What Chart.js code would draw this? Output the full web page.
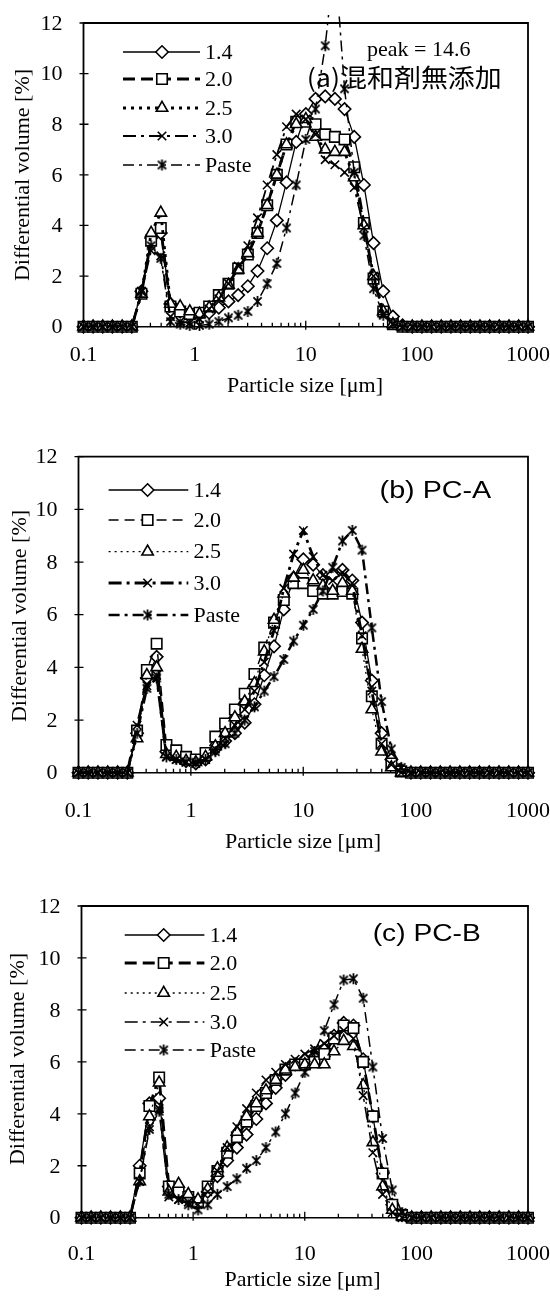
<!DOCTYPE html>
<html>
<head>
<meta charset="utf-8">
<title>Particle size distribution</title>
<script src="https://cdn.jsdelivr.net/npm/chart.js@4.4.1/dist/chart.umd.min.js"></script>
<style>
    html, body { margin: 0; padding: 0; background: #fff; }
    body { position: relative; width: 550px; height: 1298px; overflow: hidden; }
    canvas { position: absolute; left: 0; }
</style>
</head>
<body>
<canvas id="chartA" width="550" height="430" style="top:0px"></canvas>
<canvas id="chartB" width="550" height="450" style="top:420px"></canvas>
<canvas id="chartC" width="550" height="448" style="top:850px"></canvas>
<script>
// Instrument size channels [um], shared by every curve
const SIZES = [0.100, 0.122, 0.149, 0.182, 0.223, 0.272, 0.332, 0.406, 0.496, 0.606,
    0.741, 0.905, 1.106, 1.351, 1.651, 2.017, 2.465, 3.012, 3.680, 4.496,
    5.494, 6.713, 8.203, 10.02, 12.25, 14.96, 18.29, 22.34, 27.30, 33.36,
    40.76, 49.81, 60.86, 74.36, 90.86, 111.0, 135.7, 165.8, 202.6, 247.5,
    302.4, 369.6, 451.6, 551.8, 674.3, 823.9, 1000];

const SERIES_LABELS = ['1.4', '2.0', '2.5', '3.0', 'Paste'];
const Y_TICKS = [0, 2, 4, 6, 8, 10, 12];
const X_TICKS = [0.1, 1, 10, 100, 1000];
const X_TICK_LABELS = ['0.1', '1', '10', '100', '1000'];

// (a) no admixture
const a14 = [0,0,0,0,0,0, 1.4,3.5,3.7,0.9,0.6,0.5,0.5,0.55,0.75,1.0, 1.25,1.6,2.2,3.1,4.2,5.7,7.3,8.4,9.0,9.1, 9.0,8.6,7.5,5.6,3.3,1.4,0.4,0.05, 0,0,0,0,0,0,0,0,0,0,0,0,0];
const a20 = [0,0,0,0,0,0, 1.3,3.4,3.9,0.8,0.6,0.5,0.55,0.8,1.25,1.7, 2.3,2.85,3.7,4.8,6.0,7.2,8.1,8.1,8.0,7.6, 7.5,7.4,6.3,4.1,1.9,0.6,0.1,0, 0,0,0,0,0,0,0,0,0,0,0,0,0];
const a25 = [0,0,0,0,0,0, 1.3,3.7,4.5,0.9,0.8,0.6,0.5,0.75,1.15,1.65, 2.25,2.9,3.7,4.8,6.0,7.2,8.0,8.2,7.5,7.0, 6.9,6.9,5.9,4.0,2.0,0.6,0.1,0, 0,0,0,0,0,0,0,0,0,0,0,0,0];
const a30 = [0,0,0,0,0,0, 1.4,3.0,2.8,0.4,0.2,0.15,0.3,0.7,1.1,1.7, 2.4,3.2,4.3,5.6,6.8,7.9,8.4,8.2,7.6,6.6, 6.4,6.1,5.5,3.9,2.0,0.5,0.1,0, 0,0,0,0,0,0,0,0,0,0,0,0,0];
const aPaste = [0,0,0,0,0,0, 1.4,3.2,2.7,0.2,0.1,0.05,0.05,0.1,0.2,0.35, 0.45,0.6,1.0,1.7,2.5,3.9,5.6,7.4,8.6,11.1, 14.6,9.4,6.1,3.6,1.5,0.45,0.1,0, 0,0,0,0,0,0,0,0,0,0,0,0,0];

// (b) PC-A
const b14 = [0,0,0,0,0,0, 1.5,3.6,4.4,0.8,0.6,0.45,0.35,0.5,0.9,1.2, 1.5,1.9,2.6,3.7,4.8,6.2,7.4,8.1,7.9,7.5, 7.5,7.7,7.3,5.7,3.5,1.5,0.5,0.1, 0,0,0,0,0,0,0,0,0,0,0,0,0];
const b20 = [0,0,0,0,0,0, 1.6,3.9,4.9,1.05,0.85,0.6,0.5,0.75,1.37,1.87, 2.4,3.0,3.75,4.75,5.7,6.56,7.2,7.2,6.9,6.8, 6.8,6.9,6.8,5.1,2.9,1.1,0.35,0.05, 0,0,0,0,0,0,0,0,0,0,0,0,0];
const b25 = [0,0,0,0,0,0, 1.3,3.7,4.0,0.7,0.6,0.45,0.4,0.6,1.0,1.5, 2.1,2.7,3.4,4.6,5.8,6.8,7.4,7.7,7.3,7.1, 6.9,7.2,6.9,4.7,2.4,0.8,0.2,0, 0,0,0,0,0,0,0,0,0,0,0,0,0];
const b30 = [0,0,0,0,0,0, 1.8,3.3,3.7,0.6,0.5,0.4,0.35,0.5,0.9,1.3, 1.8,2.4,3.1,4.2,5.4,7.0,8.3,9.2,8.2,7.5, 7.3,7.6,7.2,5.2,3.1,1.1,0.3,0, 0,0,0,0,0,0,0,0,0,0,0,0,0];
const bPaste = [0,0,0,0,0,0, 1.5,3.2,3.6,0.6,0.5,0.4,0.4,0.5,0.8,1.1, 1.5,2.0,2.5,3.1,3.65,4.3,5.0,5.6,6.2,6.9, 7.8,8.8,9.2,8.45,5.5,2.7,0.9,0.2, 0,0,0,0,0,0,0,0,0,0,0,0,0];

// (c) PC-B
const c14 = [0,0,0,0,0,0, 2.0,4.4,4.6,1.2,0.9,0.7,0.6,1.0,1.6,2.2, 2.7,3.2,3.8,4.4,5.0,5.5,5.9,6.1,6.2,6.5, 7.0,7.5,7.4,6.1,3.9,1.7,0.5,0.1, 0,0,0,0,0,0,0,0,0,0,0,0,0];
const c20 = [0,0,0,0,0,0, 1.7,4.3,5.4,1.2,1.0,0.8,0.6,1.2,1.8,2.5, 3.1,3.7,4.3,4.8,5.3,5.7,5.9,5.9,6.0,6.3, 6.9,7.4,7.3,6.0,3.9,1.7,0.5,0.1, 0,0,0,0,0,0,0,0,0,0,0,0,0];
const c25 = [0,0,0,0,0,0, 1.4,3.9,5.2,1.0,1.3,0.9,0.7,1.1,1.9,2.7, 3.3,3.9,4.4,4.9,5.3,5.7,5.8,5.9,5.9,5.9, 6.4,6.8,6.6,5.1,2.9,1.2,0.3,0.05, 0,0,0,0,0,0,0,0,0,0,0,0,0];
const c30 = [0,0,0,0,0,0, 1.4,3.5,4.2,0.8,0.7,0.6,0.5,1.0,1.8,2.7, 3.5,4.2,4.8,5.3,5.6,5.9,6.1,6.3,6.5,6.7, 7.0,7.2,6.9,4.7,2.5,0.9,0.2,0, 0,0,0,0,0,0,0,0,0,0,0,0,0];
const cPaste = [0,0,0,0,0,0, 1.4,3.4,4.1,0.9,0.7,0.5,0.3,0.5,0.9,1.2, 1.5,1.9,2.2,2.7,3.3,4.0,4.8,5.6,6.4,7.2, 8.2,9.15,9.2,8.45,5.8,3.05,1.07,0.2, 0,0,0,0,0,0,0,0,0,0,0,0,0];

const SERIF = '"Liberation Serif", "Times New Roman", serif';

// Excel-style star marker: an x with a vertical bar through it
function makeStar(size, lw) {
    const c = document.createElement('canvas');
    c.width = c.height = size;
    const g = c.getContext('2d');
    const m = size / 2, r = size / 2 - 1;
    g.strokeStyle = '#000';
    g.lineWidth = lw;
    g.beginPath();
    g.moveTo(m - r * 0.75, m - r * 0.75); g.lineTo(m + r * 0.75, m + r * 0.75);
    g.moveTo(m + r * 0.75, m - r * 0.75); g.lineTo(m - r * 0.75, m + r * 0.75);
    g.moveTo(m, m - r); g.lineTo(m, m + r);
    g.stroke();
    return c;
}
const STAR = makeStar(13, 1.8);

const MARKERS = [
    { pointStyle: 'rectRot', radius: 6.2 },
    { pointStyle: 'rect', radius: 7.4 },
    { pointStyle: 'triangle', radius: 6.6 },
    { pointStyle: 'crossRot', radius: 6 },
    { pointStyle: STAR, radius: 6 },
];
const MARKER_LW = 1.6;

const PANELS = [
    {
        id: 'chartA', series: [a14, a20, a25, a30, aPaste],
        area: { l: 83.5, r: 528, t: 23, b: 326.7 },
        overflowTop: 8, // off-scale peak is cut a little above the frame
        widths: [1.3, 2.8, 2.8, 1.8, 1.5],
        dashes: [[], [12, 6], [3, 5], [13, 5, 3, 5], [11, 5, 3, 5]],
        legend: { x0: 123, x1: 200, mx: 162, tx: 205, rows: [52, 79, 108, 136, 165] },
        tag: { text: '(a)混和剤無添加', font: '25px "Noto Sans CJK JP"', x: 306.7, y: 77, w: 195 },
        note: { text: 'peak = 14.6', x: 367, y: 50 },
        xLabelY: 355.5, xTitle: { x: 305, y: 386.7 }, yTitle: { x: 23.3, y: 175 },
    },
    {
        id: 'chartB', series: [b14, b20, b25, b30, bPaste],
        area: { l: 78.5, r: 528, t: 36.7, b: 352.7 },
        overflowTop: 10,
        widths: [1.3, 1.5, 1.3, 2.8, 2.5],
        dashes: [[], [10, 6], [2, 4], [13, 5, 3, 5], [11, 5, 3, 5]],
        legend: { x0: 108.6, x1: 188.3, mx: 147.6, tx: 193.6, rows: [70, 100, 131.7, 163, 195] },
        tag: { text: '(b) PC-A', font: '23px "Liberation Sans", Arial, sans-serif', x: 379.6, y: 71.7, w: 111.6 },
        note: null,
        xLabelY: 390.8, xTitle: { x: 303, y: 421.8 }, yTitle: { x: 20.1, y: 196 },
    },
    {
        id: 'chartC', series: [c14, c20, c25, c30, cPaste],
        area: { l: 81.5, r: 528, t: 56, b: 367.7 },
        overflowTop: 10,
        widths: [1.3, 2.8, 1.3, 1.5, 1.5],
        dashes: [[], [12, 6], [2, 4], [13, 5, 3, 5], [11, 5, 3, 5]],
        legend: { x0: 124.7, x1: 204.4, mx: 163.7, tx: 209.7, rows: [85, 113, 143, 172, 200] },
        tag: { text: '(c) PC-B', font: '23px "Liberation Sans", Arial, sans-serif', x: 372.7, y: 85, w: 108 },
        note: null,
        xLabelY: 404.2, xTitle: { x: 302.5, y: 430 }, yTitle: { x: 18.5, y: 209 },
    },
];

function drawMarker(ctx, marker, x, y) {
    ctx.save();
    ctx.setLineDash([]);
    ctx.strokeStyle = '#000';
    ctx.fillStyle = '#fff';
    ctx.lineWidth = MARKER_LW;
    if (Chart.helpers && Chart.helpers.drawPoint) {
        Chart.helpers.drawPoint(ctx, { pointStyle: marker.pointStyle, radius: marker.radius, borderWidth: MARKER_LW, rotation: 0 }, x, y);
    }
    ctx.restore();
}

// Frame, inward ticks, labels, legend and captions drawn against the chart's own scales
const panelDecor = {
    id: 'panelDecor',
    beforeDatasetsDraw(chart, args, p) {
        const { ctx, chartArea: a, scales: { x, y } } = chart;
        const y0 = y.getPixelForValue(0);
        ctx.save();
        ctx.strokeStyle = '#000';
        ctx.lineWidth = 1.8;
        ctx.beginPath();
        ctx.moveTo(a.left, y0); ctx.lineTo(a.left, a.top);
        ctx.lineTo(a.right, a.top); ctx.lineTo(a.right, y0);
        ctx.stroke();
        ctx.lineWidth = 1.5;
        ctx.beginPath();
        ctx.moveTo(a.left - 3, y0); ctx.lineTo(a.right + 7, y0);
        ctx.stroke();

        // y ticks cross the axis
        ctx.lineWidth = 1.3;
        ctx.beginPath();
        Y_TICKS.forEach((v) => {
            const py = y.getPixelForValue(v);
            ctx.moveTo(a.left - 4, py); ctx.lineTo(a.left + 5, py);
        });
        // x ticks point up from the zero line
        X_TICKS.forEach((d, i) => {
            const px = x.getPixelForValue(d);
            ctx.moveTo(px, y0 + 3); ctx.lineTo(px, y0 - 6);
            if (i < X_TICKS.length - 1) {
                for (let m = 2; m <= 9; m++) {
                    const mx = x.getPixelForValue(d * m);
                    ctx.moveTo(mx, y0); ctx.lineTo(mx, y0 - 4);
                }
            }
        });
        ctx.stroke();
        ctx.restore();
    },
    afterDraw(chart, args, p) {
        const { ctx, chartArea: a, scales: { x, y } } = chart;
        ctx.save();
        ctx.fillStyle = '#000';
        ctx.font = '22px ' + SERIF;

        ctx.textAlign = 'right';
        ctx.textBaseline = 'middle';
        Y_TICKS.forEach((v) => ctx.fillText(String(v), a.left - 21, y.getPixelForValue(v) + 1));

        ctx.textAlign = 'center';
        X_TICKS.forEach((d, i) => ctx.fillText(X_TICK_LABELS[i], x.getPixelForValue(d), p.xLabelY));
        ctx.fillText('Particle size [\u03bcm]', p.xTitle.x, p.xTitle.y);

        ctx.save();
        ctx.translate(p.yTitle.x, p.yTitle.y);
        ctx.rotate(-Math.PI / 2);
        ctx.fillText('Differential volume [%]', 0, 0);
        ctx.restore();

        // legend: line sample, marker, label
        const lg = p.legend;
        SERIES_LABELS.forEach((label, i) => {
            const ry = lg.rows[i];
            ctx.save();
            ctx.strokeStyle = '#000';
            ctx.lineWidth = p.widths[i];
            ctx.setLineDash(p.dashes[i]);
            ctx.beginPath();
            ctx.moveTo(lg.x0, ry); ctx.lineTo(lg.x1, ry);
            ctx.stroke();
            ctx.restore();
            drawMarker(ctx, MARKERS[i], lg.mx, ry);
            ctx.textAlign = 'left';
            ctx.fillText(label, lg.tx, ry + 1);
        });

        if (p.note) {
            ctx.textAlign = 'left';
            ctx.fillText(p.note.text, p.note.x, p.note.y);
        }

        // panel caption, stretched to its measured width
        ctx.font = p.tag.font;
        ctx.textAlign = 'left';
        const tw = ctx.measureText(p.tag.text).width;
        ctx.save();
        ctx.translate(p.tag.x, p.tag.y);
        ctx.scale(p.tag.w / tw, 1);
        ctx.fillText(p.tag.text, 0, 0);
        ctx.restore();
        ctx.restore();
    },
};

function buildPanel(p) {
    const canvas = document.getElementById(p.id);
    const W = canvas.width, H = canvas.height;
    const datasets = p.series.map((vals, i) => ({
        label: SERIES_LABELS[i],
        data: SIZES.map((s, k) => ({ x: s, y: vals[k] })),
        borderColor: '#000',
        borderWidth: p.widths[i],
        borderDash: p.dashes[i],
        pointStyle: MARKERS[i].pointStyle,
        pointRadius: MARKERS[i].radius,
        pointBorderWidth: MARKER_LW,
        pointBorderColor: '#000',
        pointBackgroundColor: '#fff',
        tension: 0,
        fill: false,
        clip: { left: 12, right: 12, bottom: 12, top: p.overflowTop },
        order: 4 - i,
    }));

    return new Chart(canvas, {
        type: 'line',
        data: { datasets },
        options: {
            responsive: false,
            animation: false,
            devicePixelRatio: 1,
            layout: {
                padding: { left: p.area.l, right: W - p.area.r, top: p.area.t, bottom: H - p.area.b },
            },
            scales: {
                x: { type: 'logarithmic', min: 0.1, max: 1000, display: false },
                y: { type: 'linear', min: 0, max: 12, display: false },
            },
            plugins: {
                legend: { display: false },
                tooltip: { enabled: false },
                panelDecor: p,
            },
        },
        plugins: [panelDecor],
    });
}

PANELS.forEach(buildPanel);
</script>
</body>
</html>
